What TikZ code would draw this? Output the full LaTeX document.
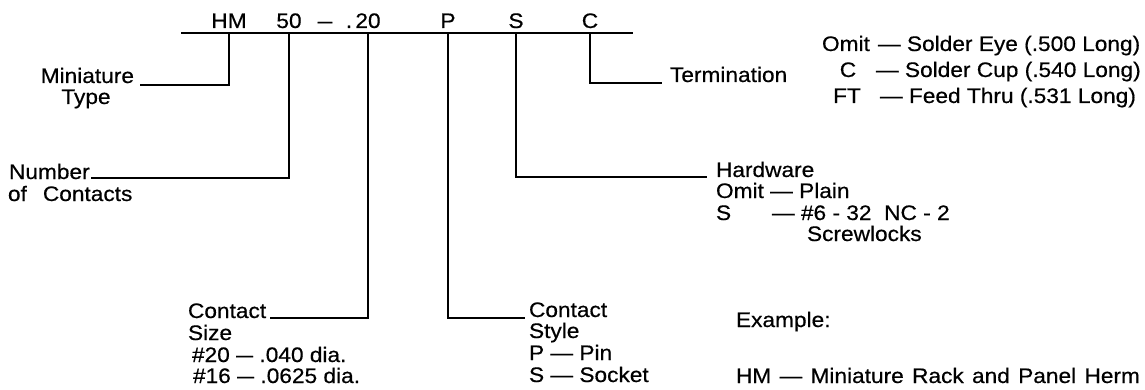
\documentclass[tikz,border=0pt]{standalone}
\usepackage{fontspec}
\setmainfont[FakeStretch=1.08,FakeBold=0.5]{Liberation Sans}
\usepackage{graphicx}
\newcommand\shortdash{\scalebox{0.75}[1]{—}}
\newcommand\tinydash{\scalebox{0.65}[1]{—}}
\begin{document}
\begin{tikzpicture}[x=1pt,y=-1pt,
  every node/.style={inner sep=0pt,outer sep=0pt,font=\fontsize{21}{21}\selectfont},
  lbl/.style={anchor=base west},
  code/.style={anchor=base},
  conn/.style={line width=1.8pt,line join=miter}]
\useasboundingbox (0,0) rectangle (1145,390);

% code letters
\node[code] (hm)  at (229,28) {HM};
\node[code] (n50) at (289,28) {50};
\node[code] (dsh) at (325,28) {\tinydash};
\node[code] (dot) at (349,28) {.};
\node[code] (n20) at (368,28) {20};
\node[code] (np)  at (448,28) {P};
\node[code] (ns)  at (516,28) {S};
\node[code] (nc)  at (590,28) {C};

\coordinate (topL) at (181,33);
\coordinate (topR) at (633,33);
\draw[conn] (topL) -- (topR);

% free ends
\coordinate (eMini) at (140,85);
\coordinate (eNum)  at (91,178);
\coordinate (eSize) at (270,318);
\coordinate (eStyle) at (525,318);
\coordinate (eHw)   at (707,177);
\coordinate (eTerm) at (662,83);

% connectors
\draw[conn] (hm |- topL) |- (eMini);
\draw[conn] (n50 |- topL) |- (eNum);
\draw[conn] (n20 |- topL) |- (eSize);
\draw[conn] (np |- topL) |- (eStyle);
\draw[conn] (ns |- topL) |- (eHw);
\draw[conn] (nc |- topL) |- (eTerm);

% Miniature type
\node[anchor=base east] (mini1) at (134,83) {Miniature};
\node[anchor=base] (mini2) at (86,104) {Type};

% Number of contacts
\node[lbl] (num1) at (9,179) {Number};
\node[lbl] (num2) at (8,201) {of\hspace{16pt}Contacts};

% Contact size
\node[lbl] (cs1) at (188,318) {Contact};
\node[lbl] (cs2) at (188,340) {Size};
\node[lbl] (cs3) at (192,362) {\#20 \shortdash{} .040 dia.};
\node[lbl] (cs4) at (193,383) {\#16 \shortdash{} .0625 dia.};

% Contact style
\node[lbl] (st1) at (529,317) {Contact};
\node[lbl] (st2) at (529,338) {Style};
\node[lbl] (st3) at (529,360) {P — Pin};
\node[lbl] (st4) at (529,382) {S — Socket};

% Hardware
\node[lbl] (hw1) at (716,177) {Hardware};
\node[lbl] (hw2) at (716,198) {Omit — Plain};
\node[lbl] (hw3) at (716,220) {S};
\node[lbl] (hw3b) at (772,220) {— \#6 - 32\ \ NC - 2};
\node[lbl] (hw4) at (807,241) {Screwlocks};

% Termination
\node[lbl] (term) at (670,82) {Termination};
\node[lbl] (t1a) at (822,51) {Omit};
\node[lbl] (t1b) at (878,51) {— Solder Eye (.500 Long)};
\node[code] (t2a) at (848,77) {C};
\node[lbl] (t2b) at (876,77) {— Solder Cup (.540 Long)};
\node[code] (t3a) at (847,103) {FT};
\node[lbl] (t3b) at (880,103) {— Feed Thru (.531 Long)};

% Example
\node[lbl] (ex1) at (736,327) {Example:};
\node[lbl] (ex2) at (736,383) {\spaceskip=8.3pt HM — Miniature Rack and Panel Herm};
\end{tikzpicture}
\end{document}
